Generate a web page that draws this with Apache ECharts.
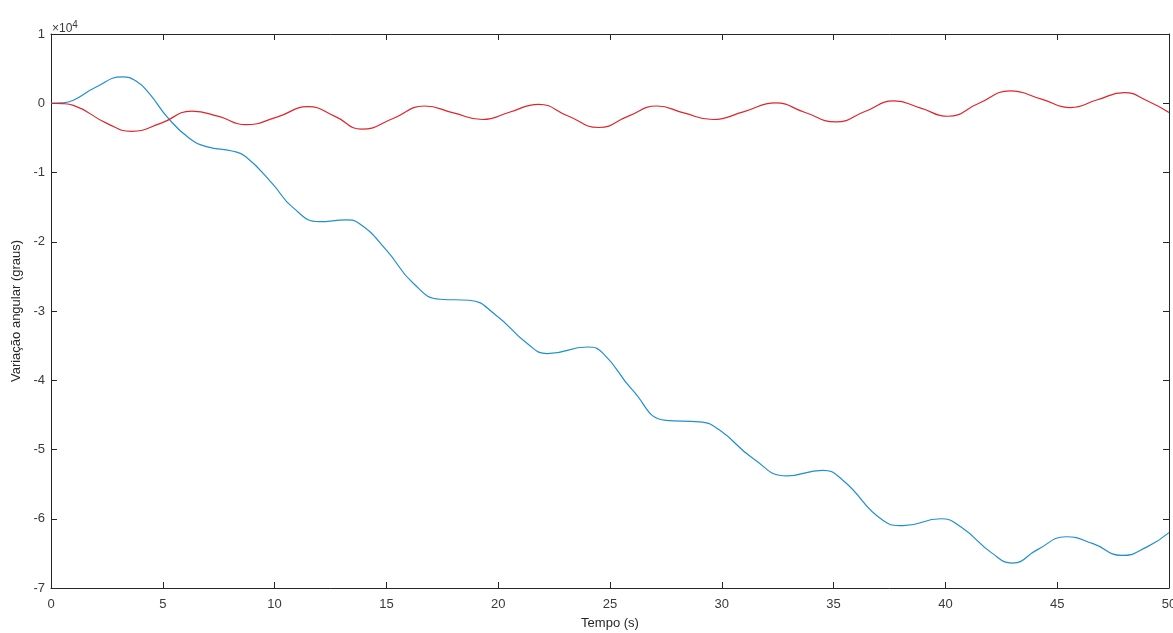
<!DOCTYPE html>
<html>
<head>
<meta charset="utf-8">
<script src="https://cdn.jsdelivr.net/npm/echarts@6/dist/echarts.min.js"></script>
<style>
  html, body { margin: 0; padding: 0; background: #fff; }
  #main { width: 1173px; height: 633px; }
</style>
</head>
<body>
<div id="main"></div>
<script>
// tempo (s) e variação angular (graus)
const redTime = [0, 0.5, 1.0, 2.5, 3.6, 4.9, 6.3, 7.5, 8.7, 10.1, 11.5, 12.7, 13.9, 15.3, 16.7, 18.0, 19.3, 20.5, 21.8, 23.1, 24.5, 25.8, 27.1, 28.3, 29.6, 31.0, 32.4, 33.7, 35.1, 36.4, 37.7, 38.9, 40.1, 41.5, 42.9, 44.3, 45.6, 46.8, 48.0, 49.0, 50];
const redAngle = [0, -50, -300, -2900, -4050, -2900, -1150, -1900, -3100, -2000, -500, -1900, -3750, -2200, -400, -1400, -2350, -1300, -150, -1800, -3500, -1900, -400, -1400, -2350, -1200, 50, -1300, -2700, -1200, 330, -700, -1880, 0, 1780, 600, -620, 500, 1540, 400, -1340];

const blueTime = [0, 0.5, 1.0, 2.0, 3.2, 3.8, 4.4, 5.2, 6.2, 7.0, 8.1, 8.7, 9.9, 10.8, 12.0, 13.2, 13.8, 15.0, 16.2, 17.4, 18.7, 19.9, 21.3, 22.2, 24.0, 24.7, 26.0, 27.5, 29.0, 29.9, 31.4, 32.9, 34.5, 35.4, 37.2, 38.1, 39.8, 40.7, 42.1, 43.0, 44.1, 45.4, 46.6, 47.9, 49.0, 50];
const blueAngle = [0, 50, 430, 2300, 3800, 3200, 1400, -2000, -5100, -6300, -6900, -7700, -11600, -15000, -17100, -16850, -17400, -21200, -26000, -28300, -28450, -30600, -34700, -36150, -35200, -36150, -41400, -45800, -46000, -47200, -51300, -53800, -53000, -54400, -60200, -61000, -60000, -61200, -65000, -66400, -64500, -62600, -63600, -65300, -64100, -62000];

const xTicks = [0, 5, 10, 15, 20, 25, 30, 35, 40, 45, 50];
const yTicks = [1, 0, -1, -2, -3, -4, -5, -6, -7]; // ×10^4

const axisColor = '#262626';
const font = 'Liberation Sans, Arial, sans-serif';

const chart = echarts.init(document.getElementById('main'), null, { renderer: 'canvas' });

const pairs = (xs, ys) => xs.map((x, i) => [x, ys[i]]);

const boxAxis = (extra) => Object.assign({
  axisLine: { show: true, onZero: false, lineStyle: { color: axisColor, width: 1 } },
  axisTick: { show: true, inside: true, length: 6, lineStyle: { color: axisColor } },
  splitLine: { show: false }
}, extra);

chart.setOption({
  animation: false,
  grid: { left: 51, right: 4, top: 34, bottom: 45, outerBoundsMode: 'none', containLabel: false },
  xAxis: [
    boxAxis({
      type: 'value', min: xTicks[0], max: xTicks[xTicks.length - 1], interval: 5,
      position: 'bottom',
      name: 'Tempo (s)', nameLocation: 'middle', nameGap: 29,
      nameTextStyle: { color: axisColor, fontFamily: font, fontSize: 13 },
      axisLabel: { color: '#3a3a3a', fontFamily: font, fontSize: 13, margin: 10 }
    }),
    boxAxis({
      type: 'value', min: 0, max: 50, interval: 5, position: 'top',
      axisLabel: { show: false }
    })
  ],
  yAxis: [
    boxAxis({
      type: 'value', min: yTicks[yTicks.length - 1] * 10000, max: yTicks[0] * 10000, interval: 10000,
      position: 'left',
      name: 'Variação angular (graus)', nameLocation: 'middle', nameGap: 28,
      nameTextStyle: { color: axisColor, fontFamily: font, fontSize: 13 },
      axisLabel: { color: '#3a3a3a', fontFamily: font, fontSize: 13, margin: 6,
        formatter: v => String(v / 10000) }
    }),
    boxAxis({
      type: 'value', min: -70000, max: 10000, interval: 10000, position: 'right',
      axisLabel: { show: false }
    })
  ],
  graphic: [{
    type: 'text', left: 52, top: 20,
    style: {
      text: '×10{sup|4}',
      fill: '#3a3a3a', font: '12px ' + font,
      rich: { sup: { fontSize: 10, verticalAlign: 'top', padding: [0, 0, 8, 0], fill: '#3a3a3a' } }
    }
  }],
  series: [
    {
      type: 'line', data: pairs(blueTime, blueAngle), smooth: 0.5, showSymbol: false,
      lineStyle: { color: '#1f8fd1', width: 1.2 }, z: 3
    },
    {
      type: 'line', data: pairs(redTime, redAngle), smooth: 0.5, showSymbol: false,
      lineStyle: { color: '#e0242b', width: 1.2 }, z: 4
    }
  ]
});
</script>
</body>
</html>
